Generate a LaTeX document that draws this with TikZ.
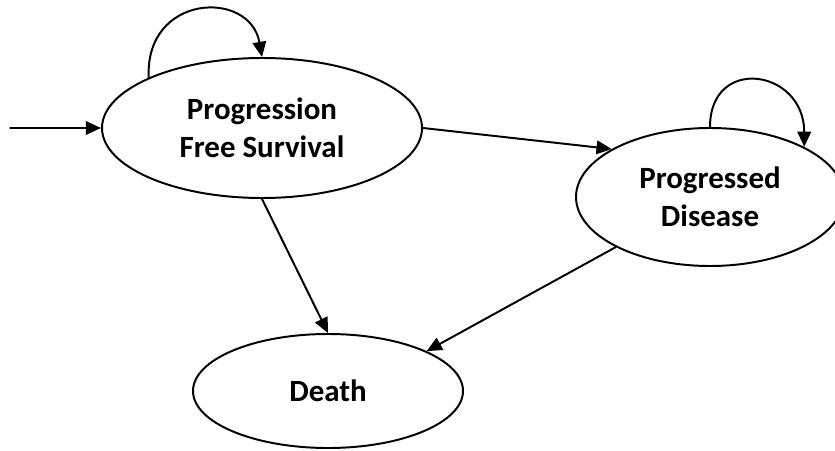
\documentclass[tikz,border=0pt]{standalone}
\usepackage{fontspec}
\setmainfont{Carlito}
\usetikzlibrary{shapes.geometric,arrows.meta}

\begin{document}
\begin{tikzpicture}[line cap=round,line join=round,x=1.0cm,y=1.0cm,
    >={Triangle[length=3.8mm,width=3.4mm]},
    state/.style={ellipse,draw,line width=1.4pt,inner sep=0pt,align=center,
        font=\fontsize{22}{27}\selectfont\bfseries},
    link/.style={->,line width=1.4pt}]

    \useasboundingbox (0,0) rectangle (20.875,11.25);

    \node[state,minimum width=8cm,minimum height=3.5cm] (pfs) at (6.55,8.05) {Progression\\Free Survival};
    \node[state,minimum width=6.7cm,minimum height=3.45cm] (pd) at (17.75,6.325) {Progressed\\Disease};
    \node[state,minimum width=6.75cm,minimum height=2.85cm] (death) at (8.2,1.475) {Death};

    \coordinate (start) at (0.25,8.05);

    \draw [link] (start) -- (pfs);
    \draw [link] (pfs.east) -- (pd.154);
    \draw [link] (pfs.south) -- (death.north);
    \draw [link] (pd.208) -- (death.22);

    % self loops
    \draw [link] (pfs.156) .. controls +(-0.1,2.1) and +(-0.3,1.7) .. (pfs.north);
    \draw [link] (pd.north) .. controls +(0,1.8) and +(0,1.95) .. (pd.28);
\end{tikzpicture}
\end{document}
